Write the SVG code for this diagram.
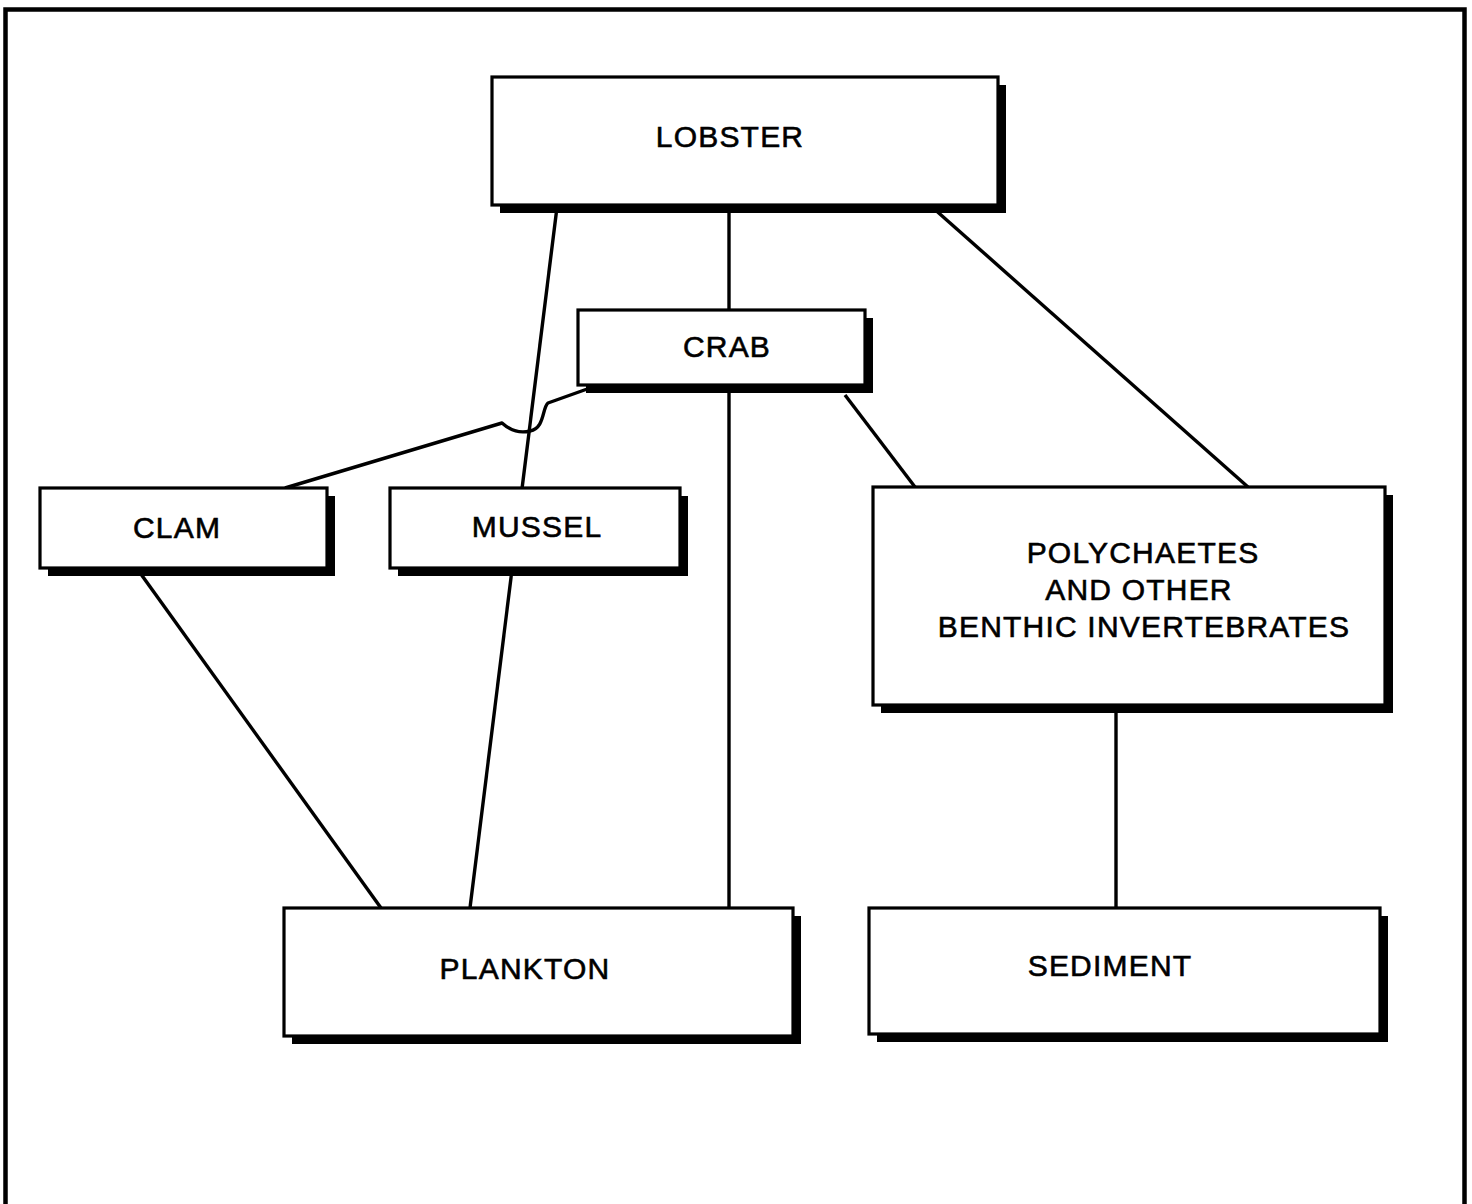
<svg xmlns="http://www.w3.org/2000/svg" width="1472" height="1204" viewBox="0 0 1472 1204">
<style>
.sh{fill:#000}
.bx{fill:#fff;stroke:#000;stroke-width:3.2}
.lb{font-family:"Liberation Sans",Arial,sans-serif;font-size:30px;fill:#000;stroke:#000;stroke-width:0.6;text-anchor:middle;letter-spacing:1.2px}
.cn{fill:none;stroke:#000;stroke-width:3.4;stroke-linecap:butt;stroke-linejoin:round}
</style>
<rect x="0" y="0" width="1472" height="1204" fill="#fff"/>
<rect x="5.5" y="9.5" width="1459" height="1200" fill="none" stroke="#000" stroke-width="4.5"/>
<g id="connectors">
<path class="cn" d="M557,207 L470,908"/>
<path class="cn" d="M729,207 L729,310"/>
<path class="cn" d="M932,207 L1248,487"/>
<path class="cn" d="M729,387 L729,908"/>
<path class="cn" d="M845,395 L915,487"/>
<path class="cn" d="M590,388 L548,403 C542,408 545,428 530,431 C522,433 512,432 502,423 L285,488"/>
<path class="cn" d="M138,570 L381,908"/>
<path class="cn" d="M1116,707 L1116,908"/>
</g>
<g id="lobster">
<rect class="sh" x="500" y="85" width="506" height="128"/>
<rect class="bx" x="492" y="77" width="506" height="128"/>
<text class="lb" x="730" y="147">LOBSTER</text>
</g>
<g id="crab">
<rect class="sh" x="586" y="318" width="287" height="75"/>
<rect class="bx" x="578" y="310" width="287" height="75"/>
<text class="lb" x="727" y="357">CRAB</text>
</g>
<g id="clam">
<rect class="sh" x="48" y="496" width="287" height="80"/>
<rect class="bx" x="40" y="488" width="287" height="80"/>
<text class="lb" x="177" y="538">CLAM</text>
</g>
<g id="mussel">
<rect class="sh" x="398" y="496" width="290" height="80"/>
<rect class="bx" x="390" y="488" width="290" height="80"/>
<text class="lb" x="537" y="537">MUSSEL</text>
</g>
<g id="polychaetes">
<rect class="sh" x="881" y="495" width="512" height="218"/>
<rect class="bx" x="873" y="487" width="512" height="218"/>
<text class="lb" x="1143" y="563">POLYCHAETES</text>
<text class="lb" x="1139" y="600">AND OTHER</text>
<text class="lb" x="1144" y="637">BENTHIC INVERTEBRATES</text>
</g>
<g id="plankton">
<rect class="sh" x="292" y="916" width="509" height="128"/>
<rect class="bx" x="284" y="908" width="509" height="128"/>
<text class="lb" x="525" y="979">PLANKTON</text>
</g>
<g id="sediment">
<rect class="sh" x="877" y="916" width="511" height="126"/>
<rect class="bx" x="869" y="908" width="511" height="126"/>
<text class="lb" x="1110" y="976">SEDIMENT</text>
</g>
</svg>
